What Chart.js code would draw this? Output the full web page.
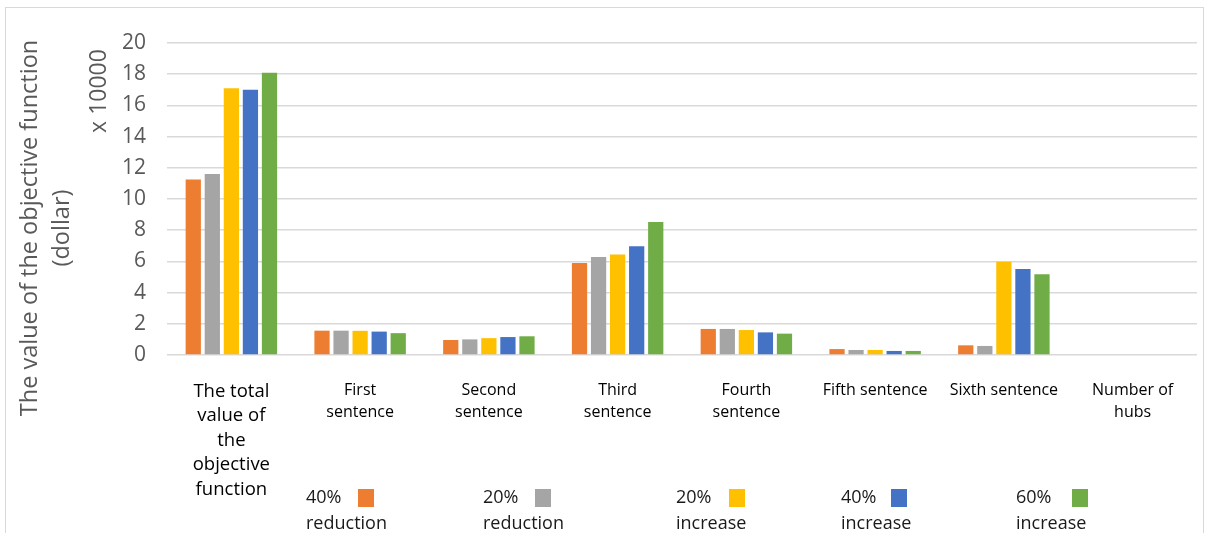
<!DOCTYPE html>
<html>
<head>
<meta charset="utf-8">
<script src="https://cdn.jsdelivr.net/npm/chart.js@4"></script>
<style>
  html, body { margin: 0; padding: 0; background: #fff; }
  #wrap { width: 1208px; height: 533px; }
</style>
</head>
<body>
<div id="wrap"><canvas id="c" width="1208" height="533"></canvas></div>
<script>
// ---- data ----
const categories = [
  ["The total", "value of", "the", "objective", "function"],
  ["First", "sentence"],
  ["Second", "sentence"],
  ["Third", "sentence"],
  ["Fourth", "sentence"],
  "Fifth sentence",
  "Sixth sentence",
  ["Number of", "hubs"]
];
const seriesNames = [["40%", "reduction"], ["20%", "reduction"], ["20%", "increase"], ["40%", "increase"], ["60%", "increase"]];
const reduction40 = [11.25, 1.56, 0.96, 5.90, 1.67, 0.38, 0.62, 0];
const reduction20 = [11.60, 1.56, 1.00, 6.28, 1.67, 0.32, 0.58, 0];
const increase20  = [17.10, 1.55, 1.08, 6.45, 1.60, 0.32, 5.98, 0];
const increase40  = [17.00, 1.50, 1.15, 6.97, 1.45, 0.26, 5.51, 0];
const increase60  = [18.10, 1.40, 1.20, 8.53, 1.37, 0.26, 5.17, 0];
const yTicks = { min: 0, max: 20, step: 2 };
const yTitle = ["The value of the objective function", "(dollar)"];
const unitLabel = "x 10000";

const colors = ["#ED7D31", "#A5A5A5", "#FFC000", "#4472C4", "#70AD47"];
const seriesValues = [reduction40, reduction20, increase20, increase40, increase60];
const FONT = "'Open Sans', 'DejaVu Sans', sans-serif";

const extras = {
  id: 'extras',
  beforeDraw(chart) {
    const ctx = chart.ctx;
    ctx.save();
    ctx.strokeStyle = '#d9d9d9';
    ctx.lineWidth = 1;
    ctx.strokeRect(5.5, 7.5, 1198, 540);
    ctx.restore();
  },
  afterDraw(chart) {
    const ctx = chart.ctx;
    ctx.save();
    // y axis title (two lines, rotated)
    ctx.fillStyle = '#595959';
    ctx.textAlign = 'center';
    ctx.textBaseline = 'middle';
    ctx.font = "23.5px " + FONT;
    const cy = 228;
    const xs = [30, 62];
    yTitle.forEach((t, i) => {
      ctx.save();
      ctx.translate(xs[i], cy);
      ctx.rotate(-Math.PI / 2);
      ctx.fillText(t, 0, 0);
      ctx.restore();
    });
    // unit label
    ctx.font = "23px " + FONT;
    ctx.save();
    ctx.translate(99, 91);
    ctx.rotate(-Math.PI / 2);
    ctx.fillText(unitLabel, 0, 0);
    ctx.restore();
    // legend: text left of box, two lines
    const textX = [306, 483, 676, 841, 1016];
    const boxX = [358, 535, 729, 891, 1072];
    ctx.font = "18px " + FONT;
    ctx.textAlign = 'left';
    ctx.fillStyle = '#1a1a1a';
    chart.data.datasets.forEach((ds, i) => {
      const lines = seriesNames[i];
      ctx.fillText(lines[0], textX[i], 498);
      ctx.fillText(lines[1], textX[i], 524);
      ctx.fillStyle = ds.backgroundColor;
      ctx.fillRect(boxX[i], 489, 16, 18);
      ctx.fillStyle = '#1a1a1a';
    });
    ctx.restore();
  }
};

new Chart(document.getElementById('c'), {
  type: 'bar',
  data: {
    labels: categories,
    datasets: seriesValues.map((vals, i) => ({
      label: seriesNames[i].join(' '),
      data: vals,
      backgroundColor: colors[i],
      borderWidth: 0,
      categoryPercentage: 0.74,
      barPercentage: 0.8
    }))
  },
  options: {
    responsive: false,
    animation: false,
    devicePixelRatio: 1,
    layout: { padding: { left: 0, right: 11, top: 43, bottom: 0 } },
    plugins: { legend: { display: false }, tooltip: { enabled: false } },
    scales: {
      y: {
        min: yTicks.min, max: yTicks.max,
        ticks: { stepSize: yTicks.step, padding: 21, color: '#595959', font: { family: FONT, size: 21 } },
        grid: { color: '#d9d9d9', lineWidth: 1.5, drawTicks: false },
        border: { display: false },
        afterFit(s) { s.width = 167; }
      },
      x: {
        grid: { display: false },
        border: { display: false },
        ticks: {
          autoSkip: false, maxRotation: 0, minRotation: 0, padding: 16, color: '#000000',
          font: (c) => (c.index === 0
            ? { family: FONT, size: 18.5, lineHeight: 1.33 }
            : { family: FONT, size: 16, lineHeight: 1.38 })
        },
        afterFit(s) { s.height = 178; }
      }
    }
  },
  plugins: [extras]
});
</script>
</body>
</html>
